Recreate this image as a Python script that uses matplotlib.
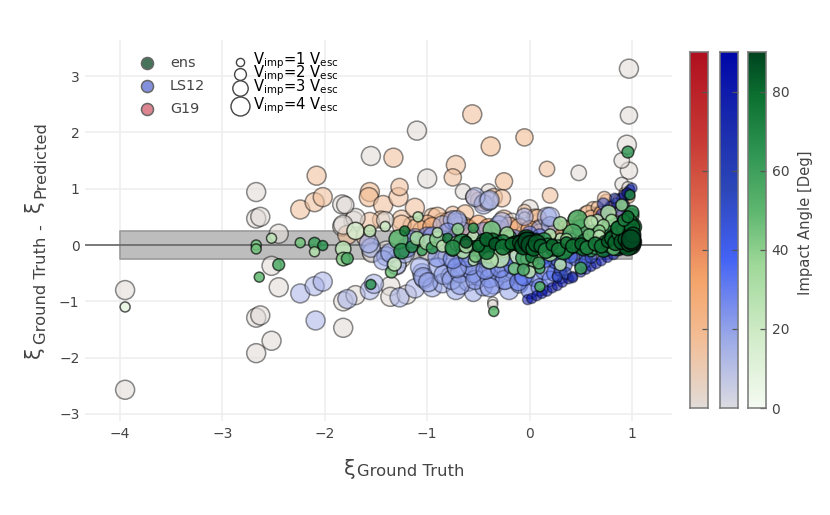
import numpy as np
import matplotlib
matplotlib.use("Agg")
import matplotlib.pyplot as plt
from matplotlib.colors import LinearSegmentedColormap as LSC

plt.rcParams['font.family'] = ['DejaVu Sans']
plt.rcParams['mathtext.fontset'] = 'dejavusans'
W, H = 830, 515
TXT = '#444444'

# ---------- G19 ----------
g19_x = [-3.95,-3.95,-2.67,-2.67,-2.63,-2.67,-2.63,-2.67,-2.52,-2.52,
         -2.45,-2.45,-1.83,-1.72,-1.83,-1.82,-1.82,-1.70,-1.55,-1.10,
         -1.00,-0.65,-0.50,0.48,0.97,0.97,0.95,0.97,0.90,-1.36,
         -1.36,-1.20,-1.54,-1.40,-1.30,-1.00,-0.80,-0.40,0.00,0.15,
         -2.24,-2.10,-2.02,-2.08,-1.56,-1.57,-1.43,-1.28,-1.27,-1.33,
         -0.72,-0.75,-0.38,-0.25,-0.56,0.17,0.20,-0.05,-1.60,-1.45,
         -1.25,-1.15,-1.05,-0.95,-0.85,-0.75,-0.65,-0.55,-0.45,-0.35,
         -0.25,-0.15,-0.05,0.05,0.15,0.25,0.35,0.45,0.55,0.62,
         0.66,0.70,0.75,0.80,0.85,0.88,0.92,0.95,0.97,1.00,
         -1.12,-1.56,-1.25,-1.78,-0.90,-0.79,-1.00,-1.70,-1.80,-1.82,
         -1.41,-1.25,-1.30,-1.54,-0.65,-0.22,-0.17,-0.05,-0.63,-0.63,
         0.08,0.10,-0.27,0.57,0.73,0.66,0.90,-0.68,-0.36,-0.36,
         -1.10,-0.95,-0.70,-0.60,-0.50,-0.40,-0.30,-0.20,-0.10,0.00,
         0.10,0.25,0.40,0.50,0.60,0.70,0.80,0.88,0.93,0.96]
g19_y = [-0.80,-2.57,0.94,0.47,0.50,-1.29,-1.25,-1.92,-1.70,-0.37,
         0.20,-0.75,0.72,0.43,0.33,-1.47,-1.00,-0.89,1.58,2.03,
         1.18,0.95,0.80,1.28,3.13,2.30,1.78,1.32,1.50,-0.73,
         -0.92,-0.88,-0.12,-0.10,-0.25,-0.10,-0.20,0.95,0.65,0.30,
         0.63,0.76,0.85,1.23,0.94,0.85,0.71,0.85,1.03,1.55,
         1.42,1.20,1.75,1.13,2.32,1.35,0.88,1.91,0.15,0.45,
         0.45,0.35,0.25,0.50,0.40,0.55,0.30,0.85,0.75,0.85,
         0.45,0.35,0.60,0.50,0.30,0.35,0.30,0.45,0.55,0.65,
         0.57,0.62,0.78,0.71,0.80,0.60,0.70,0.50,0.85,0.40,
         0.66,0.41,0.36,0.18,0.50,0.41,0.36,0.48,0.71,0.36,
         0.44,-0.23,-0.36,-0.14,-0.25,-0.48,0.41,0.48,0.56,0.32,
         0.48,0.30,0.83,0.57,0.83,0.67,1.08,0.44,-1.01,-1.06,
         0.30,0.32,0.33,0.28,0.36,0.30,0.28,0.34,0.30,0.28,
         0.22,0.24,0.30,0.40,0.48,0.55,0.65,0.78,0.92,1.02]
g19_v = [4,4,4,4,4,4,4,4,4,4,
         4,4,4,4,4,4,4,4,4,4,
         4,3,3,3,4,3.5,4,3.5,3,4,
         4,4,4,4,4,4,4,3,3.5,3.5,
         4,4,4,4,4,4,4,4,3.5,4,
         4,3.5,4,3.5,4,3,3,3.5,4,3.5,
         4,3.5,4,3.5,4,3,4,3,3.5,3.5,
         4,3,2.5,3,3.5,3,3,3,3,2.5,
         2,2,2.5,2,2,2,2,2,2,2,
         4,4,4,4,4,4,4,4,3.5,4,
         3.5,4,4,4,4,3,3.5,2,3.5,4,
         3.5,3.5,3.5,3,2.5,2,2.5,2,1.5,1.5,
         4,4,4,4,4,4,3.5,3.5,4,3.5,
         3.5,3,3,3,3,3,2.5,2.5,2,2]
g19_a = [0,0,0,0,0,0,0,0,0,0,
         0,0,0,0,0,0,0,0,0,0,
         0,0,0,0,0,0,0,0,0,0,
         0,0,0,0,0,0,0,0,0,0,
         15,15,15,15,18,18,15,15,15,15,
         15,15,18,18,15,15,15,18,15,15,
         15,18,20,15,18,15,22,15,18,15,
         18,20,15,18,18,15,20,15,12,18,
         55,30,25,60,22,30,55,35,25,30,
         15,15,15,18,18,25,22,0,0,0,
         0,0,0,0,0,0,0,0,18,28,
         18,15,15,18,15,15,0,0,0,0,
         22,28,30,28,32,35,28,30,26,35,
         22,25,20,25,18,30,18,30,25,0]

# ---------- LS12 ----------
ls12_x = [-2.24,-2.10,-2.02,-2.09,-1.78,-1.56,-1.52,-1.27,-1.12,-1.55,
          -1.40,-1.30,-1.22,-1.05,-1.03,-0.95,-0.90,-0.85,-0.78,-0.72,
          -0.65,-0.60,-0.55,-0.50,-0.45,-0.40,-0.35,-0.30,-0.25,-0.20,
          -0.15,-0.10,-0.05,0.00,0.05,0.10,0.15,0.20,0.25,0.30,
          -0.85,-0.70,-0.65,-0.45,-0.40,-0.30,-0.05,0.10,0.17,0.20,
          -0.02,0.02,0.07,0.12,0.17,0.22,0.27,0.32,0.38,0.42,
          0.50,0.55,0.60,0.65,0.70,0.76,0.82,0.88,0.93,0.97,
          0.70,0.75,0.80,0.85,0.90,0.93,0.96,0.98,0.97,0.85,
          0.25,0.35,0.45,0.55,0.30,0.40,0.50,0.65,0.75,0.85,
          -1.57,-1.12,-1.43,-1.36,-1.07,-1.04,-0.99,-0.84,-0.76,-0.71,
          -0.75,-0.68,-0.55,-0.68,-0.53,-0.39,-0.24,-0.39,-0.11,-0.58,
          -0.71,-0.43,-0.29,-0.17,-0.06,-0.27,-0.71,-0.53,-0.39,0.20,
          0.35,0.27,0.42,0.54,0.72,0.83,1.00,0.95,0.60,0.12,
          -1.20,-1.00,-0.90,-0.75,-0.60,-0.50,-0.40,-0.30,-0.20,-0.10,
          -0.02,0.05,0.12,0.18,0.28,-1.15,-0.95,-0.80,-0.45,-0.15,
          0.00,0.10,0.15,0.38,0.48,0.58,0.68,0.78,0.88,0.92]
ls12_y = [-0.86,-0.73,-0.65,-1.34,-0.96,-0.80,-0.69,-0.93,-0.77,-0.05,
          -0.20,-0.35,-0.15,-0.50,-0.60,-0.75,-0.40,-0.68,-0.55,-0.80,
          -0.45,-0.65,-0.85,-0.55,-0.75,-0.40,-0.70,-0.50,-0.62,-0.80,
          -0.45,-0.70,-0.55,-0.80,-0.60,-0.75,-0.45,-0.60,-0.50,-0.55,
          0.35,0.40,0.25,0.72,0.78,0.35,0.50,0.28,0.50,0.35,
          -0.97,-0.95,-0.90,-0.86,-0.82,-0.76,-0.72,-0.66,-0.60,-0.56,
          -0.48,-0.43,-0.38,-0.33,-0.28,-0.22,-0.17,-0.10,-0.05,-0.02,
          0.55,0.62,0.70,0.75,0.83,0.88,0.93,0.98,0.90,0.40,
          -0.30,-0.35,-0.25,-0.20,-0.45,-0.20,-0.35,0.00,-0.08,0.10,
          0.03,0.12,-0.27,-0.14,-0.39,-0.57,-0.66,-0.53,-0.62,-0.39,
          0.44,-0.50,-0.50,-0.71,-0.62,-0.59,-0.62,-0.75,-0.66,-0.36,
          -0.41,-0.44,-0.41,-0.36,-0.57,0.41,0.44,0.85,0.80,0.50,
          -0.50,-0.57,-0.58,-0.30,0.73,0.83,1.01,0.92,-0.22,0.05,
          -0.05,0.15,-0.22,-0.25,-0.22,-0.18,-0.25,-0.15,-0.20,-0.12,
          -0.28,-0.10,-0.22,-0.08,-0.25,0.10,0.15,0.22,0.25,0.12,
          0.20,0.15,-0.28,0.12,0.18,0.22,0.35,0.48,0.60,0.72]
ls12_v = [4,4,4,4,4,4,4,4,4,4,
          4,4,4,4,4,4,4,4,3.5,4,
          4,4,3.5,4,3.5,4,4,3.5,4,4,
          4,3.5,4,3.5,3,3.5,4,3,3.5,3,
          4,4,3.5,4,4,4,3.5,3.5,4,3.5,
          1.5,1.5,1.5,1.5,1.5,1.5,1.5,1.5,1.5,1.5,
          1.5,1.5,1.5,1.5,1.5,1.5,1.5,1.5,1.5,1.5,
          1.5,1.5,1.5,1.5,1.5,2,1.5,1.5,1.5,2,
          2.5,2.5,2.5,2.5,2,2.5,2,2.5,2.5,2.5,
          4,4,4,4,4,4,4,4,4,4,
          4,4,4,4,4,4,4,4,3.5,4,
          4,4,4,3.5,3.5,4,4,4,4,4,
          2,1.5,1.5,2,2,1.5,1.5,1.5,2,3,
          4,4,4,4,4,3.5,4,4,4,3.5,
          3.5,3.5,3,3,3,3.5,4,4,3.5,3.5,
          3,3,2.5,2.5,2.5,2,2,2,1.5,1.5]
ls12_a = [15,15,15,15,15,15,15,15,15,15,
          17,18,16,18,18,18,20,18,20,18,
          20,20,18,22,20,20,22,24,22,20,
          25,26,25,30,30,28,30,30,34,32,
          13,15,16,15,15,18,16,15,15,18,
          85,85,85,85,85,85,85,85,85,85,
          80,80,85,80,85,85,80,80,85,85,
          70,75,75,72,75,80,75,80,85,60,
          50,50,45,55,50,45,55,50,50,45,
          17,18,18,20,18,18,20,20,20,22,
          18,22,24,20,22,24,24,22,28,22,
          20,24,26,28,32,16,16,15,13,16,
          55,60,70,35,50,55,65,70,60,30,
          24,26,24,28,28,30,30,28,34,34,
          40,36,40,38,46,24,26,24,22,28,
          32,36,42,46,36,46,46,52,58,62]

# ---------- ens ----------
ens_x = [-3.95,-2.67,-2.67,-2.52,-2.64,-2.45,-2.24,-2.10,-2.02,-2.10,
         -1.82,-1.82,-1.78,-1.70,-1.56,-1.41,-1.09,-1.55,-1.35,-1.32,
         -1.28,-1.25,-1.22,-0.35,0.96,-1.15,-1.10,-1.05,-1.00,-0.95,
         -0.90,-0.85,-0.80,-0.75,-0.70,-0.65,-0.60,-0.55,-0.50,-0.45,
         -0.40,-0.35,-0.30,-0.25,-0.20,-0.15,-0.10,-0.05,-0.03,0.00,
         0.02,0.05,-0.02,0.03,0.08,0.12,0.15,0.20,0.25,0.30,
         0.33,0.37,0.40,0.45,0.50,0.50,0.55,0.60,0.62,0.65,
         0.70,0.72,0.75,0.78,0.80,0.85,0.85,0.88,0.90,0.90,
         0.92,0.92,0.95,0.95,0.96,0.97,0.97,0.98,0.98,0.99,
         0.99,1.00,1.00,0.30,0.10,-0.15,-0.55,-0.70,-0.90,0.20,
         -0.37,-0.55,-0.22,-0.66,-0.55,-0.36,-0.31,-0.45,-0.16,0.00,
         -0.04,-0.08,-0.06,-0.29,-0.39,0.02,0.09,0.00,-0.06,0.10,
         -0.53,0.47,0.42,0.30,0.33,0.54,0.64,0.80,0.83,1.00,
         1.00,0.50,0.77,0.80,0.66,0.90,0.98,0.60,0.72,0.86,
         0.93,0.97,0.90,0.94,0.98,1.00,0.96,0.88,0.68,0.82,
         -0.75,-0.62,-0.48,-0.42,-0.26,-0.20,-0.12,-0.02,0.04,0.06,
         0.14,0.18,0.23,0.28,0.36,0.44,0.52,0.58,0.68,0.74]
ens_y = [-1.10,0.00,-0.07,0.12,-0.57,-0.35,0.04,0.03,-0.01,-0.12,
         -0.07,-0.25,-0.24,0.25,0.25,0.33,0.50,-0.70,-0.48,-0.34,
         0.10,-0.11,0.25,-1.18,1.65,-0.03,0.12,-0.10,0.05,-0.05,
         0.10,-0.02,0.12,-0.08,0.03,-0.12,0.05,0.15,-0.05,0.08,
         -0.15,0.06,0.02,-0.10,0.12,0.00,-0.18,0.05,0.10,-0.05,
         0.02,-0.12,-0.25,-0.30,0.03,-0.10,0.05,-0.15,0.02,0.12,
         -0.10,-0.02,0.10,-0.05,0.08,0.30,0.02,-0.12,0.10,0.00,
         0.12,-0.08,0.15,0.28,0.02,0.25,-0.02,0.10,0.35,0.02,
         0.15,0.30,0.05,0.45,0.22,0.05,0.30,0.12,0.40,0.00,
         0.22,0.05,0.52,-0.35,-0.42,-0.42,-0.28,0.28,0.22,0.18,
         0.27,0.30,0.20,0.04,-0.03,0.09,-0.03,0.00,0.03,0.05,
         0.07,0.00,-0.23,-0.23,-0.27,-0.21,-0.32,-0.48,-0.44,-0.74,
         -0.20,0.45,0.20,0.38,-0.09,0.06,0.23,0.32,0.12,0.32,
         0.58,-0.41,0.57,0.44,0.44,0.71,0.89,0.40,0.35,0.18,
         0.02,0.42,0.20,0.32,0.20,0.12,-0.02,0.30,0.25,-0.06,
         -0.05,-0.02,0.02,-0.12,0.06,-0.02,0.03,0.02,-0.02,0.04,
         0.08,0.00,-0.06,-0.03,0.10,0.02,-0.05,0.18,0.16,0.05]
ens_v = [1.5,1.5,1.5,1.5,1.5,2,1.5,2,1.5,1.5,
         3,2.5,2,3.5,2,1.5,1.5,1.5,2,2.5,
         4,3,1.5,1.5,2,2,2.5,1.5,3,2,
         3,2,1.5,2.5,3,2.5,3,2,3,2.5,
         4,3,3,2.5,3,3,4,3.5,4,4,
         3.5,4,2.5,1.5,3,3.5,3,3,2,1.5,
         3,4,2,1.5,2,3.5,3,1.5,3,4,
         2,3,3,3.5,4,2.5,4,3,3,4,
         3.5,4,4,2.5,4,4,3.5,4,3,4,
         3,4,2.5,2,1.5,2,1.5,2,1.5,2,
         3.5,1.5,2.5,3.5,2,2.5,4,3,2.5,4,
         3.5,3,3,4,3.5,2,2,2,2,1.5,
         2,4,4,2.5,4,3,3,4,4,4,
         2.5,2,3,2,2,2,1.5,2.5,2,3,
         4,3,4,3.5,3,3.5,4,3,2,2.5,
         3,2.5,2,3,2.5,2,3,3.5,3.5,4,
         3,2.5,3,2.5,2,2,3,2,2,2.5]
ens_a = [8,45,45,25,50,55,45,60,65,30,
         25,40,55,15,25,20,25,65,45,20,
         50,70,75,50,62,70,35,60,30,65,
         40,25,75,45,35,30,65,22,40,70,
         25,75,35,20,60,30,20,75,82,88,
         85,60,15,40,75,30,80,35,50,25,
         70,80,15,40,25,50,15,60,70,60,
         30,78,70,55,75,40,82,25,62,88,
         75,55,85,30,80,88,70,88,60,88,
         80,88,45,25,55,45,25,40,25,30,
         45,65,35,70,80,80,75,75,80,85,
         85,82,60,25,30,75,55,25,55,55,
         45,55,55,35,70,75,65,62,80,78,
         68,60,30,35,20,40,70,30,35,75,
         85,65,70,80,85,88,85,80,40,50,
         70,30,60,80,75,82,85,88,88,85,
         65,70,78,60,35,70,80,45,25,72]

# dark core of the ens cloud, drawn last
core_x = [-0.62,-0.50,-0.42,-0.34,-0.26,-0.18,-0.10,-0.06,-0.02,0.01,
          0.04,0.07,0.11,0.16,0.22,0.28,0.36,0.42,0.50,0.56,
          0.64,0.70,0.76,0.80,0.84,0.87,0.90,0.92,0.94,0.96,
          0.97,0.98,0.99,1.00,1.00,1.01,0.86,0.92,0.96,0.99]
core_y = [0.05,-0.02,0.10,0.02,-0.04,0.02,0.04,-0.02,0.06,0.00,
          -0.06,0.03,-0.02,-0.10,0.00,-0.08,0.04,-0.02,0.02,-0.05,
          0.02,-0.02,0.06,0.12,0.04,0.20,0.06,0.28,0.10,0.38,
          0.02,0.24,0.14,0.06,0.32,0.18,0.30,0.44,0.50,0.10]
core_v = [2,2,2.5,2,3,2,2.5,3.5,4,4,
          3,3.5,2.5,3,2,2.5,2,2.5,2,2.5,
          2.5,2.5,2,2.5,3,2.5,3,2.5,3,2.5,
          3,3,3.5,3.5,3,3,2.5,2,2,4]
core_a = [85,80,82,85,78,80,85,85,88,88,
          80,85,82,72,80,75,80,78,82,72,
          75,78,85,80,82,72,85,75,85,72,
          88,85,88,88,80,85,75,70,78,88]

# ---------- colour bars / legend ----------
cbar_ticks = [0, 20, 40, 60, 80]
angle_max = 90
legend_names = ['ens', 'LS12', 'G19']
velocity_steps = [1, 2, 3, 4]
band_half = 0.25
x_ticks = [-4, -3, -2, -1, 0, 1]
y_ticks = [-3, -2, -1, 0, 1, 2, 3]

cm_red = LSC.from_list('r', [(0, '#e2dcd8'), (.2, '#f3bd94'), (.36, '#f5a46a'), (.55, '#df6b4e'),
                             (.75, '#c83a35'), (1, '#b0101f')])
cm_blue = LSC.from_list('b', [(0, '#dcdce2'), (.2, '#9aa8e8'), (.42, '#4463f5'), (.62, '#2c46b8'),
                              (.8, '#1a2bae'), (1, '#0008a8')])
cm_green = LSC.from_list('g', [(0, '#f5fbf2'), (.2, '#d2ecc9'), (.4, '#a0d99a'), (.55, '#60b870'),
                               (.72, '#2f9553'), (.88, '#0c7030'), (1, '#004420')])


def diam(v):
    return 4.6 + 3.6 * np.asarray(v, float)


def sz(v):
    return (diam(v) * 0.72) ** 2


def fx(px):
    return px / W


def fy(py):
    return 1 - py / H


fig = plt.figure(figsize=(8.3, 5.15), dpi=100)
ax = fig.add_axes([fx(85), fy(421), (672 - 85) / W, (421 - 40) / H])
ax.set_xlim(-4 - 35 / 102.4, 1 + 40 / 102.4)
ax.set_ylim(-3 - 7 / 56.33, 3 + 36 / 56.33)
for s in ax.spines.values():
    s.set_visible(False)
ax.set_axisbelow(True)
ax.grid(color='#eeeeee', lw=1.1)
ax.set_xticks(x_ticks)
ax.set_yticks(y_ticks)
ax.tick_params(length=0, labelsize=10, labelcolor=TXT)
ax.tick_params(axis='y', pad=4)
ax.tick_params(axis='x', pad=4)

ax.fill_between([-4, 1], -band_half, band_half, color='#bdbdbd', ec='#9a9a9a', lw=1.2, zorder=1)
ax.axhline(0, color='#666666', lw=1.2, zorder=1.5)


def draw(x, y, v, a, cmap, alpha, edge, z):
    fc = cmap(np.asarray(a, float) / angle_max)
    fc[:, 3] = alpha
    ax.scatter(x, y, s=sz(v), facecolors=fc, edgecolors=[edge], linewidths=1.1, zorder=z, clip_on=False)


draw(g19_x, g19_y, g19_v, g19_a, cm_red, 0.6, (0, 0, 0, 0.45), 2)
draw(ls12_x, ls12_y, ls12_v, ls12_a, cm_blue, 0.55, (0, 0, 0, 0.42), 3)
draw(ens_x, ens_y, ens_v, ens_a, cm_green, 0.85, (0, 0, 0, 0.65), 4)
draw(core_x, core_y, core_v, core_a, cm_green, 0.85, (0, 0, 0, 0.75), 5)

# overlay axes in pixel coordinates
ov = fig.add_axes([0, 0, 1, 1], zorder=10)
ov.set_xlim(0, W)
ov.set_ylim(H, 0)
ov.axis('off')

TITLE = 11.8
ov.text(350, 469, '\u03be', fontsize=15, color=TXT, ha='center', va='center')
ov.text(357, 472, 'Ground Truth', fontsize=TITLE, color=TXT, ha='left', va='center')
ov.text(34, 352, '\u03be', fontsize=15, color=TXT, ha='center', va='center', rotation=90)
ov.text(41, 344, 'Ground Truth', fontsize=TITLE, color=TXT, ha='center', va='bottom', rotation=90)
ov.text(41, 227, '-', fontsize=TITLE, color=TXT, ha='center', va='center', rotation=90)
ov.text(34, 206, '\u03be', fontsize=15, color=TXT, ha='center', va='center', rotation=90)
ov.text(41, 198, 'Predicted', fontsize=TITLE, color=TXT, ha='center', va='bottom', rotation=90)

leg_cols = ['#47735a', '#8490dc', '#dc8590']
for name, c, py in zip(legend_names, leg_cols, [63, 86, 109]):
    ov.scatter([147], [py], s=(12 * .72) ** 2, c=c, edgecolors='#666666', linewidths=1.1)
    ov.text(170, py, name, fontsize=10.4, color=TXT, va='center')
for vv, py, tx in zip(velocity_steps, [62, 74, 88, 106], [61, 74, 88, 106]):
    ov.scatter([240], [py], s=sz(vv), facecolors='white', edgecolors='#444444', linewidths=1)
    ov.text(253, tx, r'$\mathrm{V_{imp}}$=%d $\mathrm{V_{esc}}$' % vv, fontsize=10.6, color='black', va='center')

# colour bars
grad = np.linspace(0, 1, 256)[:, None]
for left, cm in zip([690, 720, 748], [cm_red, cm_blue, cm_green]):
    cax = fig.add_axes([fx(left), fy(408), 18 / W, (408 - 52) / H], zorder=5)
    cax.imshow(grad, cmap=cm, origin='lower', aspect='auto', extent=[0, 1, 0, angle_max])
    for s in cax.spines.values():
        s.set_edgecolor('#777777')
        s.set_linewidth(1.1)
    cax.set_xticks([])
    cax.yaxis.tick_right()
    cax.set_yticks(cbar_ticks[1:] if left < 740 else cbar_ticks)
    cax.tick_params(axis='y', direction='in', length=4.5, width=0.9, color='#555555', labelsize=10,
                    labelcolor=TXT, labelright=left > 740, pad=4)
ov.text(805, 223, 'Impact Angle [Deg]', fontsize=10.6, color=TXT, rotation=90, ha='center', va='center')

fig.savefig('out.png', dpi=100)
